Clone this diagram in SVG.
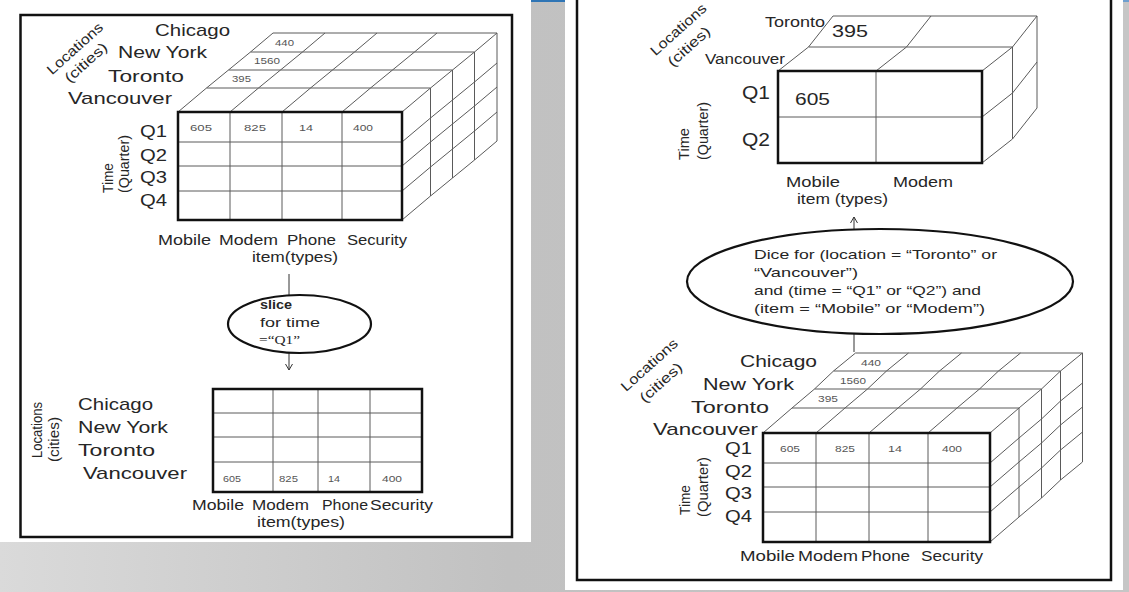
<svg xmlns="http://www.w3.org/2000/svg" width="1129" height="592" viewBox="0 0 1129 592">
<defs>
<linearGradient id="bg" x1="0" y1="0" x2="1" y2="0">
<stop offset="0" stop-color="#dadada"/>
<stop offset="0.45" stop-color="#c1c1c1"/>
<stop offset="1" stop-color="#c6c6c6"/>
</linearGradient>
<marker id="arr" markerWidth="8" markerHeight="8" refX="6" refY="4" orient="auto" markerUnits="userSpaceOnUse">
<path d="M0,0.5 L6,4 L0,7.5" fill="none" stroke="#333" stroke-width="1"/>
</marker>
<style>
text{font-family:"Liberation Sans",Arial,sans-serif;fill:#262626}
.big{font-size:17px}
.q{font-size:18px}
.mid{font-size:14px}
.op{font-size:13px}
.sm{font-size:9px;fill:#555}
.grid{fill:none;stroke:#5a5a5a;stroke-width:1}
.face{fill:none;stroke:#111;stroke-width:2.5}
.frame{fill:none;stroke:#111;stroke-width:2.5}
.ell{fill:#fff;stroke:#111;stroke-width:2.2}
.con{fill:none;stroke:#333;stroke-width:1}
</style>
</defs>

<g id="background">
<rect x="0" y="0" width="1129" height="592" fill="url(#bg)"/>
<rect x="531" y="0" width="34" height="2" fill="#2f75b5"/>
<rect x="1123" y="0" width="6" height="2" fill="#6f9fcf"/>
<rect x="0" y="0" width="531" height="542" fill="#fff"/>
<rect x="565" y="0" width="558" height="590" fill="#fff"/>
<rect class="frame" x="20.5" y="15" width="491.5" height="522"/>
<rect class="frame" x="577" y="-5" width="534" height="585"/>
</g>

<!-- LEFT: source cube -->
<g id="slice-source-cube">
<path class="grid" d="M206.5,88H430.5 M228.5,70H452.5 M250.5,52H474.5 M273,33H497
M178,112l28.5,-24 22,-18 22,-18 22.5,-19 M230,112l28.5,-24 22,-18 22,-18 22.5,-19 M282,112l28.5,-24 22,-18 22,-18 22.5,-19 M342,112l28.5,-24 22,-18 22,-18 22.5,-19 M402,112l28.5,-24 22,-18 22,-18 22.5,-19
M430.5,88V196 M452.5,70V178 M474.5,52V160 M497,33V141
M402,142l28.5,-24 22,-18 22,-18 22.5,-19 M402,166l28.5,-24 22,-18 22,-18 22.5,-19 M402,191l28.5,-24 22,-18 22,-18 22.5,-19 M402,220l28.5,-24 22,-18 22,-18 22.5,-19
M230,112V220 M282,112V220 M342,112V220 M178,142H402 M178,166H402 M178,191H402"/>
<rect class="face" x="178" y="112" width="224" height="108"/>
<text class="sm" x="275" y="46" textLength="19" lengthAdjust="spacingAndGlyphs">440</text>
<text class="sm" x="254" y="64" textLength="26" lengthAdjust="spacingAndGlyphs">1560</text>
<text class="sm" x="232" y="82" textLength="19" lengthAdjust="spacingAndGlyphs">395</text>
<text class="sm" x="190" y="131" textLength="22" lengthAdjust="spacingAndGlyphs">605</text>
<text class="sm" x="244" y="131" textLength="22" lengthAdjust="spacingAndGlyphs">825</text>
<text class="sm" x="299" y="131" textLength="14" lengthAdjust="spacingAndGlyphs">14</text>
<text class="sm" x="353" y="131" textLength="20" lengthAdjust="spacingAndGlyphs">400</text>
<text class="big" x="155" y="36" textLength="75" lengthAdjust="spacingAndGlyphs">Chicago</text>
<text class="big" x="118" y="58" textLength="89" lengthAdjust="spacingAndGlyphs">New York</text>
<text class="big" x="108" y="82" textLength="76" lengthAdjust="spacingAndGlyphs">Toronto</text>
<text class="big" x="68" y="104" textLength="104" lengthAdjust="spacingAndGlyphs">Vancouver</text>
<text class="big" x="140" y="137" textLength="27" lengthAdjust="spacingAndGlyphs">Q1</text>
<text class="big" x="140" y="161" textLength="27" lengthAdjust="spacingAndGlyphs">Q2</text>
<text class="big" x="140" y="183" textLength="27" lengthAdjust="spacingAndGlyphs">Q3</text>
<text class="big" x="140" y="206" textLength="27" lengthAdjust="spacingAndGlyphs">Q4</text>
<text class="mid" transform="translate(113,193) rotate(-90)" textLength="30" lengthAdjust="spacingAndGlyphs">Time</text>
<text class="mid" transform="translate(129,193) rotate(-90)" textLength="58" lengthAdjust="spacingAndGlyphs">(Quarter)</text>
<text class="mid" text-anchor="middle" transform="translate(78,52) rotate(-42)" textLength="70" lengthAdjust="spacingAndGlyphs">Locations</text>
<text class="mid" text-anchor="middle" transform="translate(89,66) rotate(-42)" textLength="52" lengthAdjust="spacingAndGlyphs">(cities)</text>
<text class="mid" x="158" y="245" textLength="53" lengthAdjust="spacingAndGlyphs">Mobile</text>
<text class="mid" x="219" y="245" textLength="59" lengthAdjust="spacingAndGlyphs">Modem</text>
<text class="mid" x="287" y="245" textLength="49" lengthAdjust="spacingAndGlyphs">Phone</text>
<text class="mid" x="347" y="245" textLength="60" lengthAdjust="spacingAndGlyphs">Security</text>
<text class="mid" x="252" y="262" textLength="86" lengthAdjust="spacingAndGlyphs">item(types)</text>
</g>

<g id="connectors">
<path class="con" d="M289,274V295"/>
<path class="con" d="M289,353V370" marker-end="url(#arr)"/>
<path class="con" d="M854,229V217" marker-end="url(#arr)"/>
<path class="con" d="M854,352V334"/>
</g>

<g id="slice-op">
<ellipse class="ell" cx="299.5" cy="324" rx="71.5" ry="29"/>
<text class="op" x="260" y="309" font-weight="bold" textLength="32" lengthAdjust="spacingAndGlyphs">slice</text>
<text class="op" x="260" y="327" textLength="60" lengthAdjust="spacingAndGlyphs">for time</text>
<text class="op" x="259" y="344" style="font-family:'Liberation Serif',serif" textLength="41" lengthAdjust="spacingAndGlyphs">=“Q1”</text>
</g>

<g id="slice-result">
<path class="grid" d="M273,389V492 M318,389V492 M370,389V492 M213,413H422 M213,437H422 M213,462H422"/>
<rect class="face" x="213" y="389" width="209" height="103"/>
<text class="sm" x="223" y="482" textLength="18" lengthAdjust="spacingAndGlyphs">605</text>
<text class="sm" x="279" y="482" textLength="19" lengthAdjust="spacingAndGlyphs">825</text>
<text class="sm" x="328" y="482" textLength="12" lengthAdjust="spacingAndGlyphs">14</text>
<text class="sm" x="382" y="482" textLength="20" lengthAdjust="spacingAndGlyphs">400</text>
<text class="big" x="78" y="410" textLength="75" lengthAdjust="spacingAndGlyphs">Chicago</text>
<text class="big" x="78" y="433" textLength="90" lengthAdjust="spacingAndGlyphs">New York</text>
<text class="big" x="78" y="456" textLength="77" lengthAdjust="spacingAndGlyphs">Toronto</text>
<text class="big" x="83" y="479" textLength="104" lengthAdjust="spacingAndGlyphs">Vancouver</text>
<text class="mid" transform="translate(42,458) rotate(-90)" textLength="56" lengthAdjust="spacingAndGlyphs">Locations</text>
<text class="mid" transform="translate(59,462) rotate(-90)" textLength="45" lengthAdjust="spacingAndGlyphs">(cities)</text>
<text class="mid" x="192" y="510" textLength="52" lengthAdjust="spacingAndGlyphs">Mobile</text>
<text class="mid" x="252" y="510" textLength="57" lengthAdjust="spacingAndGlyphs">Modem</text>
<text class="mid" x="322" y="510" textLength="46" lengthAdjust="spacingAndGlyphs">Phone</text>
<text class="mid" x="370" y="510" textLength="63" lengthAdjust="spacingAndGlyphs">Security</text>
<text class="mid" x="257" y="527" textLength="88" lengthAdjust="spacingAndGlyphs">item(types)</text>
</g>

<!-- RIGHT: dice result cube -->
<g id="dice-result">
<path class="grid" d="M808.5,47H1012.5 M833,16H1037
M778,71l30.5,-24 24.5,-31 M876,71l30.5,-24 24.5,-31 M982,71l30.5,-24 24.5,-31
M1012.5,47V139 M1037,16V108
M982,117l30.5,-24 24.5,-31 M982,163l30.5,-24 24.5,-31
M876,71V163 M778,117H982"/>
<rect class="face" x="778" y="71" width="204" height="92"/>
<text class="mid" x="765" y="27" textLength="60" lengthAdjust="spacingAndGlyphs">Toronto</text>
<text class="big" x="832" y="37" textLength="36" lengthAdjust="spacingAndGlyphs">395</text>
<text class="mid" x="705" y="64" textLength="80" lengthAdjust="spacingAndGlyphs">Vancouver</text>
<text class="q" x="742" y="99" textLength="28" lengthAdjust="spacingAndGlyphs">Q1</text>
<text class="q" x="742" y="146" textLength="28" lengthAdjust="spacingAndGlyphs">Q2</text>
<text class="big" x="795" y="105" textLength="35" lengthAdjust="spacingAndGlyphs">605</text>
<text class="mid" transform="translate(689,160) rotate(-90)" textLength="32" lengthAdjust="spacingAndGlyphs">Time</text>
<text class="mid" transform="translate(708,160) rotate(-90)" textLength="58" lengthAdjust="spacingAndGlyphs">(Quarter)</text>
<text class="mid" text-anchor="middle" transform="translate(681.5,33) rotate(-42)" textLength="70" lengthAdjust="spacingAndGlyphs">Locations</text>
<text class="mid" text-anchor="middle" transform="translate(692,50) rotate(-42)" textLength="52" lengthAdjust="spacingAndGlyphs">(cities)</text>
<text class="mid" x="786" y="187" textLength="54" lengthAdjust="spacingAndGlyphs">Mobile</text>
<text class="mid" x="893" y="187" textLength="60" lengthAdjust="spacingAndGlyphs">Modem</text>
<text class="mid" x="797" y="204" textLength="91" lengthAdjust="spacingAndGlyphs">item (types)</text>
</g>

<g id="dice-op">
<ellipse class="ell" cx="880" cy="281.5" rx="193" ry="52.5"/>
<text class="op" x="754" y="259" textLength="243" lengthAdjust="spacingAndGlyphs">Dice for (location = “Toronto” or</text>
<text class="op" x="754" y="277" textLength="104" lengthAdjust="spacingAndGlyphs">“Vancouver”)</text>
<text class="op" x="754" y="295" textLength="227" lengthAdjust="spacingAndGlyphs">and (time = “Q1” or “Q2”) and</text>
<text class="op" x="754" y="313" textLength="231" lengthAdjust="spacingAndGlyphs">(item = “Mobile” or “Modem”)</text>
</g>

<g id="dice-source-cube">
<path class="grid" d="M792,408H1019 M814.5,389H1041.5 M833.5,371H1060.5 M855.5,353H1082.5
M763,433l29,-25 22.5,-19 19,-18 22,-18 M816,433l29,-25 22.5,-19 19,-18 22,-18 M869,433l29,-25 22.5,-19 19,-18 22,-18 M928,433l29,-25 22.5,-19 19,-18 22,-18 M990,433l29,-25 22.5,-19 19,-18 22,-18
M1019,408V517 M1041.5,389V498 M1060.5,371V480 M1082.5,353V462
M990,463l29,-25 22.5,-19 19,-18 22,-18 M990,487l29,-25 22.5,-19 19,-18 22,-18 M990,512l29,-25 22.5,-19 19,-18 22,-18 M990,542l29,-25 22.5,-19 19,-18 22,-18
M816,433V542 M869,433V542 M928,433V542 M763,463H990 M763,487H990 M763,512H990"/>
<rect class="face" x="763" y="433" width="227" height="109"/>
<text class="sm" x="861" y="366" textLength="20" lengthAdjust="spacingAndGlyphs">440</text>
<text class="sm" x="840" y="384" textLength="26" lengthAdjust="spacingAndGlyphs">1560</text>
<text class="sm" x="818" y="402" textLength="20" lengthAdjust="spacingAndGlyphs">395</text>
<text class="sm" x="780" y="452" textLength="20" lengthAdjust="spacingAndGlyphs">605</text>
<text class="sm" x="835" y="452" textLength="20" lengthAdjust="spacingAndGlyphs">825</text>
<text class="sm" x="888" y="452" textLength="14" lengthAdjust="spacingAndGlyphs">14</text>
<text class="sm" x="942" y="452" textLength="20" lengthAdjust="spacingAndGlyphs">400</text>
<text class="big" x="740" y="367" textLength="77" lengthAdjust="spacingAndGlyphs">Chicago</text>
<text class="big" x="703" y="390" textLength="91" lengthAdjust="spacingAndGlyphs">New York</text>
<text class="big" x="691" y="413" textLength="78" lengthAdjust="spacingAndGlyphs">Toronto</text>
<text class="big" x="653" y="435" textLength="105" lengthAdjust="spacingAndGlyphs">Vancouver</text>
<text class="big" x="725" y="454" textLength="27" lengthAdjust="spacingAndGlyphs">Q1</text>
<text class="big" x="725" y="477" textLength="27" lengthAdjust="spacingAndGlyphs">Q2</text>
<text class="big" x="725" y="499" textLength="27" lengthAdjust="spacingAndGlyphs">Q3</text>
<text class="big" x="725" y="522" textLength="27" lengthAdjust="spacingAndGlyphs">Q4</text>
<text class="mid" transform="translate(690,515) rotate(-90)" textLength="30" lengthAdjust="spacingAndGlyphs">Time</text>
<text class="mid" transform="translate(708,517) rotate(-90)" textLength="60" lengthAdjust="spacingAndGlyphs">(Quarter)</text>
<text class="mid" text-anchor="middle" transform="translate(652.5,368.5) rotate(-42)" textLength="71" lengthAdjust="spacingAndGlyphs">Locations</text>
<text class="mid" text-anchor="middle" transform="translate(664,386) rotate(-42)" textLength="52" lengthAdjust="spacingAndGlyphs">(cities)</text>
<text class="mid" x="740" y="561" textLength="55" lengthAdjust="spacingAndGlyphs">Mobile</text>
<text class="mid" x="798" y="561" textLength="60" lengthAdjust="spacingAndGlyphs">Modem</text>
<text class="mid" x="861" y="561" textLength="49" lengthAdjust="spacingAndGlyphs">Phone</text>
<text class="mid" x="921" y="561" textLength="62" lengthAdjust="spacingAndGlyphs">Security</text>
</g>
</svg>
